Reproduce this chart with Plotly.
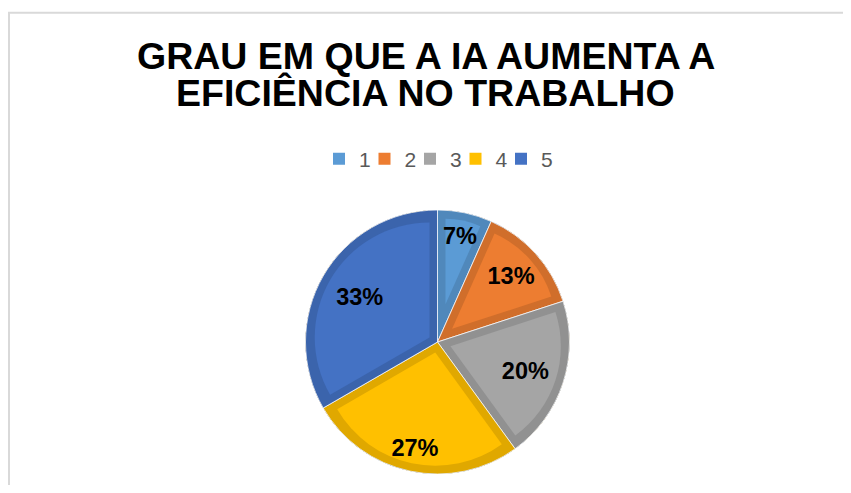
import math
import plotly.graph_objects as go

# ---- data ----
labels = ["1", "2", "3", "4", "5"]
values = [1, 2, 3, 4, 5]
colors = ["#5B9BD5", "#ED7D31", "#A5A5A5", "#FFC000", "#4472C4"]
title_lines = ["GRAU EM QUE A IA AUMENTA A", "EFICIÊNCIA NO TRABALHO"]

# ---- style / geometry (screen pixels; page body has an 8px margin) ----
OFF = 8
W, H = 835, 477
CX, CY, R = 437.5, 342.0, 132.0
BAND = 8.0
LABEL_R = [0.82, 0.75, 0.70, 0.82, 0.68]   # label distance from centre, fraction of radius
TXT_R = 70.0
FONT = "Liberation Sans, Arial, sans-serif"


def px(x):
    return (x - OFF) / W


def py(y):
    return 1 - (y - OFF) / H


def darker(hexc, f=0.88):
    h = hexc.lstrip("#")
    r, g, b = (int(h[i:i + 2], 16) for i in (0, 2, 4))
    return "#%02X%02X%02X" % (int(r * f), int(g * f), int(b * f))


def dom(cx, cy, r):
    return dict(x=[px(cx - r), px(cx + r)], y=[py(cy + r), py(cy - r)])


dark = [darker(c) for c in colors]
total = sum(values)
full = dom(CX, CY, R)
common = dict(sort=False, direction="clockwise", rotation=0)

fig = go.Figure()

# legend entries (light colours); these full pies are covered by the pie drawn above them
cum = 0
for i, (lab, v, c) in enumerate(zip(labels, values, colors)):
    fig.add_trace(go.Pie(labels=[lab], values=[v], domain=full, marker=dict(colors=[c]),
                         textinfo="none", hoverinfo="skip", showlegend=True,
                         legendwidth=(14 if i == len(labels) - 1 else 0.5),
                         sort=False, direction="clockwise", rotation=360.0 * cum / total))
    cum += v

# outer (darker) band
fig.add_trace(go.Pie(labels=labels, values=values, domain=full,
                     marker=dict(colors=dark, line=dict(color="rgba(255,255,255,0.75)", width=1)),
                     textinfo="none", hoverinfo="label+percent", showlegend=False, **common))

# inset lighter wedges + percentage labels
cum = 0
inset_traces, text_traces = [], []
for i, (lab, v, c) in enumerate(zip(labels, values, colors)):
    a0 = 360.0 * cum / total
    theta = 360.0 * v / total
    half = math.radians(theta / 2)
    mid = math.radians(a0 + theta / 2)
    ux, uy = math.sin(mid), -math.cos(mid)
    s = BAND / math.sin(half)
    inset_traces.append(go.Pie(
        labels=[lab, "rest" + lab], values=[v, total - v],
        domain=dom(CX + s * ux, CY + s * uy, R - BAND - s),
        marker=dict(colors=[c, "rgba(0,0,0,0)"], line=dict(width=0)),
        textinfo="none", hoverinfo="skip", showlegend=False,
        sort=False, direction="clockwise", rotation=a0))
    # label: plotly puts horizontal inside text at r/(1+sin(half)); shift the
    # transparent text pie so the label lands at LABEL_R * R from the centre
    delta = LABEL_R[i] * R - TXT_R / (1 + math.sin(half))
    text_traces.append(go.Pie(
        labels=[lab, "rest" + lab], values=[v, total - v],
        domain=dom(CX + delta * ux, CY + delta * uy, TXT_R),
        marker=dict(colors=["rgba(0,0,0,0)"] * 2, line=dict(width=0)),
        texttemplate=["%{percent:.0%}", ""], textposition="inside",
        insidetextorientation="horizontal",
        textfont=dict(family=FONT, size=23.5, color="black", weight="bold"),
        hoverinfo="skip", showlegend=False,
        sort=False, direction="clockwise", rotation=a0))
    cum += v

for t in inset_traces + text_traces:
    fig.add_trace(t)

fig.update_layout(
    width=W, height=H,
    margin=dict(l=0, r=0, t=0, b=0),
    paper_bgcolor="white",
    font=dict(family=FONT),
    uniformtext=dict(minsize=23.5, mode="show"),
    legend=dict(orientation="h", x=px(319), xanchor="left", y=py(159), yanchor="middle",
                font=dict(family=FONT, size=21, color="#595959"), itemwidth=30,
                traceorder="normal", bgcolor="rgba(0,0,0,0)"),
    annotations=[
        dict(text=title_lines[0], x=px(425.5), y=py(55.5), xref="paper", yref="paper",
             xanchor="center", yanchor="middle", showarrow=False,
             font=dict(family=FONT, size=37.5, color="black", weight="bold")),
        dict(text=title_lines[1], x=px(425), y=py(92.5), xref="paper", yref="paper",
             xanchor="center", yanchor="middle", showarrow=False,
             font=dict(family=FONT, size=37.5, color="black", weight="bold")),
    ],
    shapes=[dict(type="rect", xref="paper", yref="paper", x0=px(9), x1=1.05, y0=-0.05, y1=py(12.7),
                 line=dict(color="#D9D9D9", width=2), fillcolor="rgba(0,0,0,0)", layer="below")],
)

fig.write_html("out.html")
